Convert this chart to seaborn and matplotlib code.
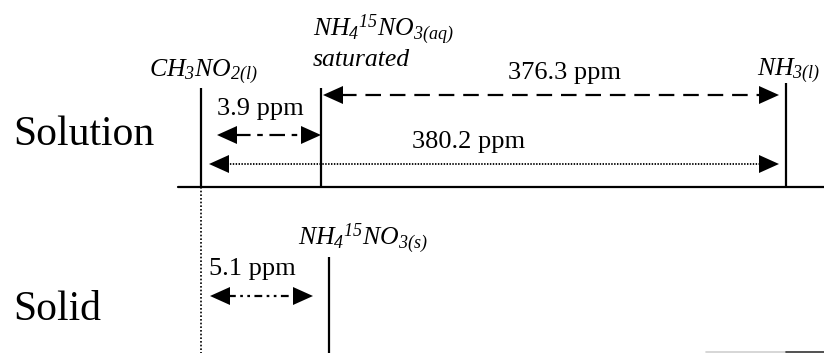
import matplotlib
matplotlib.use("Agg")
import matplotlib.pyplot as plt
import seaborn as sns
import numpy as np

# ---- data ----
rows = ["Solution", "Solid"]
species = [r"$CH_3NO_{2(l)}$",
           r"$NH_4{}^{15}NO_{3(aq)}$",
           r"$NH_{3(l)}$",
           r"$NH_4{}^{15}NO_{3(s)}$"]
note = "saturated"
shifts = [3.9, 376.3, 380.2, 5.1]
shift_labels = [f"{v} ppm" for v in shifts]

sns.set_theme(style="white")
plt.rcParams["font.family"] = ["Liberation Serif", "DejaVu Serif"]
plt.rcParams["mathtext.fontset"] = "custom"
plt.rcParams["mathtext.rm"] = "Liberation Serif:italic"
plt.rcParams["mathtext.it"] = "Liberation Serif:italic"
plt.rcParams["mathtext.bf"] = "Liberation Serif:bold"

fig = plt.figure(figsize=(8.24, 3.53), dpi=100)
ax = fig.add_axes([0, 0, 1, 1])
ax.set_xlim(0, 824)
ax.set_ylim(353, 0)
ax.axis("off")

K = "black"
# peak positions (layout)
peak_x = [201, 321, 786, 329]
peak_top = [88, 88, 83, 257]
peak_bot = [187, 187, 187, 353]
base_y = 187

for x, t, b in zip(peak_x, peak_top, peak_bot):
    ax.plot([x, x], [t, b], color=K, lw=1.6, solid_capstyle="butt")
sns.lineplot(x=[178, 824], y=[base_y, base_y], ax=ax, color=K, lw=1.6)
ax.plot([201, 201], [base_y, 353], color=K, lw=1.2, linestyle=(0, (1, 1.2)))

def arrow(x0, x1, y, ls, lw=1.6, head=20, hw=9):
    ax.plot([x0 + head - 2, x1 - head + 2], [y, y], color=K, lw=lw, linestyle=ls,
            solid_capstyle="butt", dash_capstyle="butt")
    ax.fill([x0, x0 + head, x0 + head], [y, y - hw, y + hw], color=K, lw=0)
    ax.fill([x1, x1 - head, x1 - head], [y, y - hw, y + hw], color=K, lw=0)

arrow(217, 321, 135, (0, (7, 3, 2.5, 3)))
arrow(323, 779, 95, (0, (7, 4)))
arrow(209, 779, 164, (0, (0.8, 0.8)), lw=1.3)
arrow(210, 313, 296, (0, (3.5, 2, 1.2, 2, 1.2, 2)))

# row labels
ax.text(13, 145, rows[0], fontsize=30, va="baseline", ha="left", color=K)
ax.text(13, 320, rows[1], fontsize=30, va="baseline", ha="left", color=K)

# species labels
ax.text(149, 76, species[0], fontsize=18.5, va="baseline", ha="left", color=K)
ax.text(313, 36, species[1], fontsize=18.5, va="baseline", ha="left", color=K)
ax.text(313, 66, note, fontsize=18.5, style="italic", va="baseline", ha="left", color=K)
ax.text(757, 75, species[2], fontsize=18.5, va="baseline", ha="left", color=K)
ax.text(298, 245, species[3], fontsize=18.5, va="baseline", ha="left", color=K)

# shift labels
ax.text(217, 115, shift_labels[0], fontsize=19, va="baseline", ha="left", color=K)
ax.text(508, 79, shift_labels[1], fontsize=19, va="baseline", ha="left", color=K)
ax.text(412, 148, shift_labels[2], fontsize=19, va="baseline", ha="left", color=K)
ax.text(209, 275, shift_labels[3], fontsize=19, va="baseline", ha="left", color=K)

# scan edge artefact
ax.plot([706, 786], [352, 352], color="#d0d0d0", lw=1.2)
ax.plot([786, 824], [352, 352], color="#333333", lw=1.2)

fig.savefig("out.png", dpi=100)
